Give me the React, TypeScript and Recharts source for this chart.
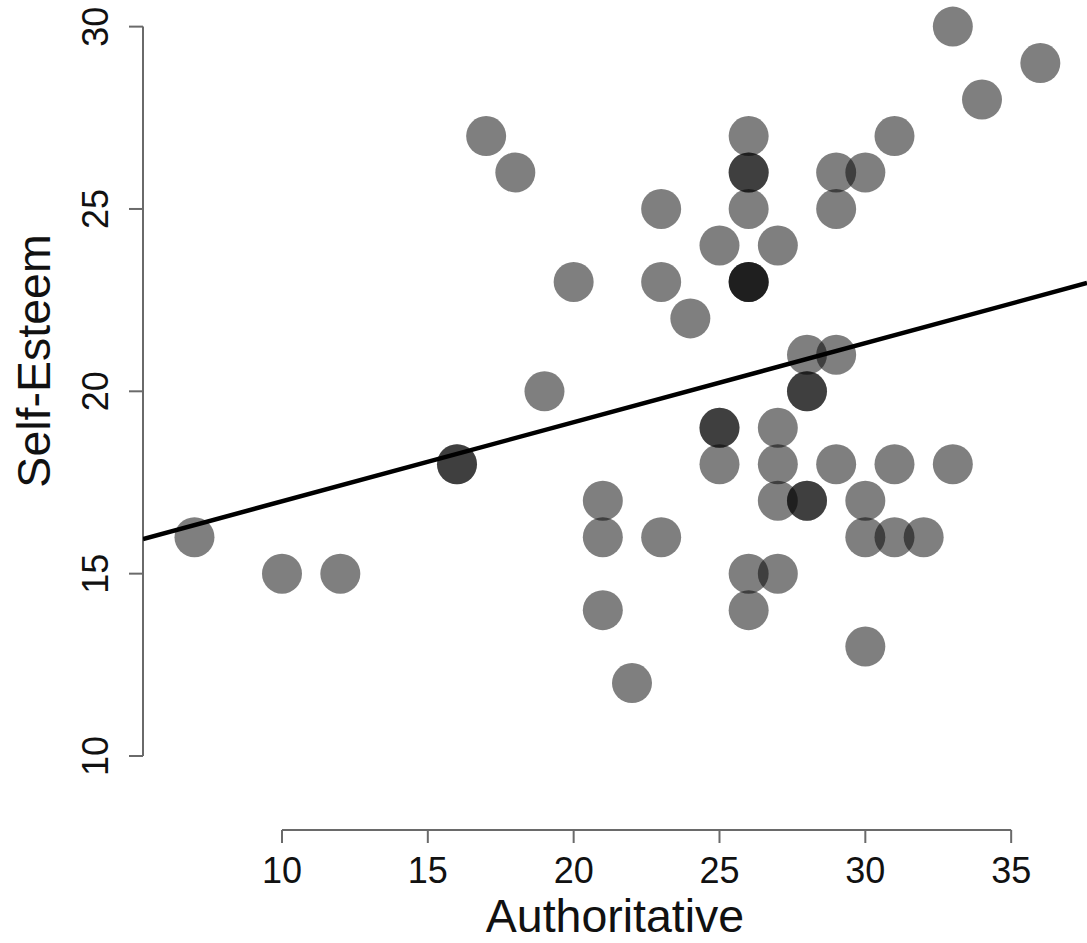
import React from "react";
import { ScatterChart, Scatter, XAxis, YAxis, ReferenceLine, Label } from "recharts";

// Authoritative score (x) and Self-Esteem score (y), one entry per respondent
const authoritative = [
  7, 10, 12, 16, 16, 17, 18, 19, 20, 21, 21, 21, 22, 23, 23, 23, 24, 25, 25, 25, 25,
  26, 26, 26, 26, 26, 26, 26, 26, 26, 27, 27, 27, 27, 27, 28, 28, 28, 28, 28,
  29, 29, 29, 29, 30, 30, 30, 30, 31, 31, 31, 32, 33, 33, 34, 36,
];
const selfEsteem = [
  16, 15, 15, 18, 18, 27, 26, 20, 23, 17, 16, 14, 12, 25, 23, 16, 22, 24, 19, 19, 18,
  27, 26, 26, 25, 23, 23, 23, 15, 14, 24, 19, 18, 17, 15, 21, 20, 20, 17, 17,
  26, 25, 21, 18, 26, 17, 16, 13, 27, 18, 16, 16, 30, 18, 28, 29,
];

// Fitted regression line, evaluated at the edges of the plotting region
const fitX = [5.235, 37.6];
const fitY = [15.95, 22.97];

const xTicks = [10, 15, 20, 25, 30, 35];
const yTicks = [10, 15, 20, 25, 30];

const X_DOMAIN: [number, number] = [5.235, 37.6];
const Y_DOMAIN: [number, number] = [7.971, 30.73];

const points = authoritative.map((x, i) => ({ x, y: selfEsteem[i] }));
const fitLine = fitX.map((x, i) => ({ x, y: fitY[i] }));

const FONT = "'Liberation Sans', Arial, Helvetica, sans-serif";
const AXIS_COLOR = "#6a6a6a";

const Dot = (props: any) => {
  const { cx, cy } = props;
  if (cx == null || cy == null) return null;
  return <circle cx={cx} cy={cy} r={20} fill="#000" fillOpacity={0.5} />;
};

const NoDot = () => null;

const XTick = (props: any) => {
  const { x, y, payload } = props;
  return (
    <text x={x} y={y} dy="0.71em" textAnchor="middle" fontSize={36} fill="#111" fontFamily={FONT}>
      {payload.value}
    </text>
  );
};

const YTick = (props: any) => {
  const { x, y, payload } = props;
  return (
    <text
      x={x}
      y={y}
      transform={`rotate(-90 ${x} ${y})`}
      textAnchor="middle"
      fontSize={36}
      fill="#111"
      fontFamily={FONT}
    >
      {payload.value}
    </text>
  );
};

export default function App() {
  return (
    <div style={{ position: "absolute", left: 0, top: 0, width: 1087, height: 943, background: "#fff" }}>
      <ScatterChart
        width={1087}
        height={943}
        margin={{ top: 0, right: 0, bottom: 0, left: 43 }}
        style={{ fontFamily: FONT }}
      >
        <XAxis
          type="number"
          dataKey="x"
          domain={X_DOMAIN}
          allowDataOverflow
          ticks={xTicks}
          interval={0}
          height={113}
          axisLine={false}
          tickSize={13}
          tickMargin={14}
          tickLine={{ stroke: AXIS_COLOR, strokeWidth: 2 }}
          tick={<XTick />}
        >
          <Label
            content={() => (
              <text x={615} y={932} textAnchor="middle" fontSize={46.5} fill="#111" fontFamily={FONT}>
                Authoritative
              </text>
            )}
          />
        </XAxis>
        <YAxis
          type="number"
          dataKey="y"
          domain={Y_DOMAIN}
          allowDataOverflow
          ticks={yTicks}
          interval={0}
          width={100}
          axisLine={false}
          tickSize={14}
          tickMargin={21}
          tickLine={{ stroke: AXIS_COLOR, strokeWidth: 2 }}
          tick={<YTick />}
        >
          <Label
            content={() => (
              <text
                x={50}
                y={361}
                transform="rotate(-90 50 361)"
                textAnchor="middle"
                fontSize={46.5}
                fill="#111"
                fontFamily={FONT}
              >
                Self-Esteem
              </text>
            )}
          />
        </YAxis>
        <ReferenceLine
          segment={[
            { x: X_DOMAIN[0], y: yTicks[0] },
            { x: X_DOMAIN[0], y: yTicks[yTicks.length - 1] },
          ]}
          stroke={AXIS_COLOR}
          strokeWidth={2}
          ifOverflow="visible"
        />
        <ReferenceLine
          segment={[
            { x: xTicks[0], y: Y_DOMAIN[0] },
            { x: xTicks[xTicks.length - 1], y: Y_DOMAIN[0] },
          ]}
          stroke={AXIS_COLOR}
          strokeWidth={2}
          ifOverflow="visible"
        />
        <Scatter data={points} shape={<Dot />} isAnimationActive={false} />
        <Scatter
          data={fitLine}
          shape={<NoDot />}
          line={{ stroke: "#000", strokeWidth: 4.5 }}
          isAnimationActive={false}
        />
      </ScatterChart>
    </div>
  );
}
